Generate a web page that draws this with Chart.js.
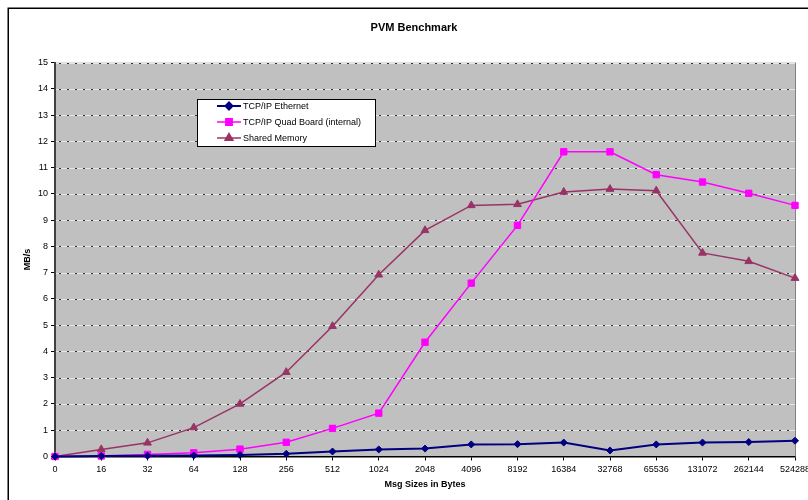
<!DOCTYPE html>
<html>
<head>
<meta charset="utf-8">
<title>PVM Benchmark</title>
<script src="https://cdn.jsdelivr.net/npm/chart.js@4/dist/chart.umd.min.js"></script>
<style>
  html, body { margin: 0; padding: 0; background: #fff; overflow: hidden; width: 808px; height: 500px; }
  #wrap { position: absolute; left: 0; top: 0; width: 828px; height: 500px; }
  canvas { display: block; }
</style>
</head>
<body>
<div id="wrap"><canvas id="c" width="828" height="500" style="width:828px;height:500px"></canvas></div>
<script>
// Message sizes (bytes) along the x axis
const msgSizes = ['0', '16', '32', '64', '128', '256', '512', '1024', '2048', '4096',
                  '8192', '16384', '32768', '65536', '131072', '262144', '524288'];

// Throughput in MB/s for each transport
const ethernet     = [0, 0.02, 0.03, 0.04, 0.06, 0.1, 0.19, 0.27, 0.3, 0.46, 0.47, 0.53, 0.23, 0.46, 0.53, 0.55, 0.6];
const quadBoard    = [0, 0.02, 0.08, 0.14, 0.28, 0.54, 1.07, 1.65, 4.35, 6.6, 8.8, 11.6, 11.6, 10.73, 10.45, 10.02, 9.56];
const sharedMemory = [0, 0.27, 0.52, 1.1, 2.0, 3.21, 4.96, 6.92, 8.61, 9.56, 9.6, 10.07, 10.18, 10.12, 7.75, 7.43, 6.79];

// Y axis range
const yMin = 0;
const yMax = 15;
const yStep = 1;

const FONT = 'Arial, "Liberation Sans", Helvetica, sans-serif';

// Outer frame and grey plot background
const framePlugin = {
  id: 'framePlugin',
  beforeDraw(chart) {
    const { ctx, chartArea: a } = chart;
    ctx.save();
    ctx.fillStyle = '#fff';
    ctx.fillRect(0, 0, chart.width, chart.height);
    ctx.strokeStyle = '#000';
    ctx.lineWidth = 1.5;
    ctx.strokeRect(8.25, 8.25, 1000, 1000);
    ctx.fillStyle = '#C0C0C0';
    ctx.fillRect(a.left, a.top, a.right - a.left, a.bottom - a.top);
    ctx.restore();
  }
};

// Dashed horizontal gridlines: light dashes separated by dark dots
const gridPlugin = {
  id: 'gridPlugin',
  beforeDatasetsDraw(chart) {
    const { ctx, chartArea: a, scales: { y } } = chart;
    ctx.save();
    ctx.lineWidth = 1;
    y.ticks.forEach(t => {
      if (t.value === yMin) return;
      const py = Math.round(y.getPixelForValue(t.value)) + 0.5;
      ctx.setLineDash([]);
      ctx.strokeStyle = '#E6E6E6';
      ctx.beginPath(); ctx.moveTo(a.left + 1, py); ctx.lineTo(a.right, py); ctx.stroke();
      ctx.setLineDash([2, 6]);
      ctx.lineDashOffset = -3;
      ctx.strokeStyle = '#303030';
      ctx.beginPath(); ctx.moveTo(a.left + 1, py); ctx.lineTo(a.right, py); ctx.stroke();
    });
    ctx.setLineDash([]);
    ctx.strokeStyle = '#808080';
    ctx.beginPath();
    ctx.moveTo(Math.round(a.right) + 0.5, a.top);
    ctx.lineTo(Math.round(a.right) + 0.5, a.bottom);
    ctx.stroke();
    ctx.restore();
  }
};

// Boxed legend inside the plot area
const boxLegend = {
  id: 'boxLegend',
  afterDatasetsDraw(chart) {
    const ctx = chart.ctx;
    const x0 = 197.5, y0 = 99.5, w = 178, h = 47;
    ctx.save();
    ctx.fillStyle = '#fff';
    ctx.fillRect(x0, y0, w, h);
    ctx.strokeStyle = '#000';
    ctx.lineWidth = 1;
    ctx.strokeRect(x0, y0, w, h);
    ctx.font = '9px ' + FONT;
    ctx.textBaseline = 'middle';
    ctx.textAlign = 'left';
    chart.data.datasets.forEach((ds, i) => {
      const ly = 106 + i * 16;
      ctx.strokeStyle = ds.borderColor;
      ctx.lineWidth = ds.borderWidth;
      ctx.beginPath(); ctx.moveTo(217, ly); ctx.lineTo(241, ly); ctx.stroke();
      ctx.fillStyle = ds.pointBackgroundColor;
      ctx.strokeStyle = ds.pointBorderColor;
      Chart.helpers.drawPoint(ctx, { pointStyle: ds.pointStyle, radius: ds.pointRadius, borderWidth: 1, rotation: 0 }, 229, ly);
      ctx.fillStyle = '#000';
      ctx.fillText(ds.label, 243, ly + 0.5);
    });
    ctx.restore();
  }
};

new Chart(document.getElementById('c'), {
  type: 'line',
  data: {
    labels: msgSizes,
    datasets: [
      {
        label: 'TCP/IP Ethernet',
        data: ethernet,
        borderColor: '#000080',
        backgroundColor: '#000080',
        pointBackgroundColor: '#000080',
        pointBorderColor: '#000080',
        borderWidth: 2,
        pointStyle: 'rectRot',
        pointRadius: 3.5,
        pointBorderWidth: 1
      },
      {
        label: 'TCP/IP Quad Board (internal)',
        data: quadBoard,
        borderColor: '#FF00FF',
        backgroundColor: '#FF00FF',
        pointBackgroundColor: '#FF00FF',
        pointBorderColor: '#FF00FF',
        borderWidth: 1.5,
        pointStyle: 'rect',
        pointRadius: 4.5,
        pointBorderWidth: 1
      },
      {
        label: 'Shared Memory',
        data: sharedMemory,
        borderColor: '#993366',
        backgroundColor: '#993366',
        pointBackgroundColor: '#993366',
        pointBorderColor: '#993366',
        borderWidth: 1.5,
        pointStyle: 'triangle',
        pointRadius: 4.5,
        pointBorderWidth: 1
      }
    ]
  },
  options: {
    responsive: false,
    animation: false,
    events: [],
    layout: { padding: 0 },
    datasets: { line: { tension: 0, fill: false, clip: false } },
    plugins: {
      legend: { display: false },
      tooltip: { enabled: false },
      title: {
        display: true,
        text: 'PVM Benchmark',
        color: '#000',
        font: { family: FONT, size: 11, weight: 'bold' },
        padding: { top: 21.4, bottom: 27.9 }
      }
    },
    scales: {
      x: {
        type: 'category',
        offset: false,
        afterFit(s) { s.height = 43.5; },
        grid: { display: true, drawOnChartArea: false, drawTicks: true, tickLength: 4, tickColor: '#000', offset: false },
        border: { display: true, color: '#000', width: 1.5 },
        ticks: { autoSkip: false, maxRotation: 0, minRotation: 0, padding: 4, color: '#000', font: { family: FONT, size: 9 } },
        title: { display: true, text: 'Msg Sizes in Bytes', color: '#000', font: { family: FONT, size: 9, weight: 'bold' }, padding: { top: 0, bottom: 10 } }
      },
      y: {
        min: yMin,
        max: yMax,
        afterFit(s) { s.width = 55; },
        grid: { display: true, drawOnChartArea: false, drawTicks: true, tickLength: 4, tickColor: '#000' },
        border: { display: true, color: '#404040', width: 2 },
        ticks: { stepSize: yStep, padding: 3, color: '#000', font: { family: FONT, size: 9 } },
        title: { display: true, text: 'MB/s', color: '#000', font: { family: FONT, size: 9, weight: 'bold' }, padding: { top: 22.6, bottom: 0 } }
      },
      // empty right-hand gutter that keeps the plot clear of the frame edge
      gutter: {
        type: 'linear',
        position: 'right',
        afterFit(s) { s.width = 33; },
        grid: { display: false },
        border: { display: false },
        ticks: { display: false }
      }
    }
  },
  plugins: [framePlugin, gridPlugin, boxLegend]
});
</script>
</body>
</html>
